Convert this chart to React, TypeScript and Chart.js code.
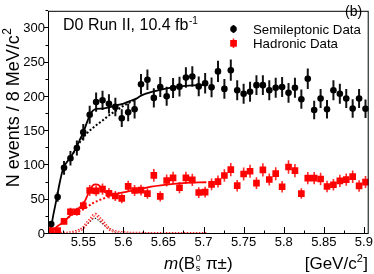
import React, { useEffect, useRef } from 'react';
import { Chart, registerables } from 'chart.js';

Chart.register(...registerables);

const FONT = "'Liberation Sans', Arial, Helvetica, sans-serif";

// ---------- axis ----------
const xMin = 5.506;
const xMax = 5.906;
const yMin = 0;
const yMax = 325.7;
const xTickValues = [5.55, 5.6, 5.65, 5.7, 5.75, 5.8, 5.85, 5.9];
const xTickLabels = ['5.55', '5.6', '5.65', '5.7', '5.75', '5.8', '5.85', '5.9'];
const xMinorTicks = [5.525, 5.575, 5.625, 5.675, 5.725, 5.775, 5.825, 5.875];
const yTickValues = [0, 50, 100, 150, 200, 250, 300];
const yTickLabels = ['0', '50', '100', '150', '200', '250', '300'];
const yMinorTicks = [25, 75, 125, 175, 225, 275, 325];

// ---------- data (bin centres, GeV/c^2) ----------
const massBins = [
  5.510, 5.518, 5.526, 5.534, 5.542, 5.550, 5.558, 5.566, 5.574, 5.582,
  5.590, 5.598, 5.606, 5.614, 5.622, 5.630, 5.638, 5.646, 5.654, 5.662,
  5.670, 5.678, 5.686, 5.694, 5.702, 5.710, 5.718, 5.726, 5.734, 5.742,
  5.750, 5.758, 5.766, 5.774, 5.782, 5.790, 5.798, 5.806, 5.814, 5.822,
  5.830, 5.838, 5.846, 5.854, 5.862, 5.870, 5.878, 5.886, 5.894, 5.902,
];

const semileptonic = [
  14.5, 54, 96.5, 110.5, 125.5, 148.5, 174, 192.5, 195, 190,
  185.5, 169, 177.6, 182, 218.6, 225, 198.6, 214.5, 201, 213,
  215, 228.4, 229.8, 215.4, 220, 214, 237.3, 211.7, 239, 209.8,
  204.7, 207.5, 217.2, 217.2, 209.8, 213.5, 214.5, 206, 213.5, 196.7,
  226.5, 181, 197.7, 182, 209.8, 204.7, 197.7, 183, 197.7, 182.7,
];
const semileptonicErr = [
  4, 7, 10, 10.5, 11, 12, 13, 14, 14, 14,
  13.5, 13, 13, 13.5, 15, 15, 14, 14.5, 14, 14.5,
  14.5, 15, 15, 14.5, 15, 14.5, 15.5, 14.5, 15.5, 14.5,
  14.5, 14.5, 14.5, 14.5, 14.5, 14.5, 14.5, 14.5, 14.5, 14,
  15, 13.5, 14, 13.5, 14.5, 14.5, 14, 13.5, 14, 13.5,
];

const hadronic = [
  5, 5, 18.5, 32.5, 32.5, 41.5, 63.5, 63, 65.5, 59.5,
  55.5, 52, 69.5, 63.5, 64, 59, 85.5, 55, 78, 82,
  67.5, 82, 79, 60.5, 61, 72.5, 76.5, 85.3, 94, 70.5,
  87.5, 91.5, 74.3, 93.5, 79.5, 88, 69, 97.7, 92.5, 59,
  81.5, 81.5, 80.3, 69.3, 71.8, 77.5, 79.3, 83.7, 70.2, 75.8,
];
const hadronicErr = [
  2.2, 2.2, 4.3, 5.7, 5.7, 6.4, 8, 7.9, 8.1, 7.7,
  7.4, 7.2, 8.3, 8, 8, 7.7, 9.2, 7.4, 8.8, 9,
  8.2, 9, 8.9, 7.8, 7.8, 8.5, 8.7, 9.2, 9.7, 8.4,
  9.4, 9.6, 8.6, 9.7, 8.9, 9.4, 8.3, 9.9, 9.6, 7.7,
  9, 9, 9, 8.3, 8.5, 8.8, 8.9, 9.1, 8.4, 8.7,
];

// ---------- fit curves ----------
const fitSemiX = [5.5070, 5.5095, 5.5130, 5.5170, 5.5210, 5.5250, 5.5290, 5.5335, 5.5375, 5.5415, 5.5455, 5.5500, 5.5540, 5.5580, 5.5620, 5.5665, 5.5745, 5.5830, 5.5915, 5.5995, 5.6080, 5.6160, 5.6220, 5.6380, 5.6540, 5.6700, 5.6860, 5.7035];
const fitSemiY = [1, 9, 30, 53, 77, 96, 104, 111, 118, 127, 137, 148, 161, 173, 180, 182.5, 183, 185, 188, 190, 194, 197.5, 202, 208, 212.5, 215.5, 217, 217.5];

const bgSemiX = [5.5375, 5.5415, 5.5455, 5.5500, 5.5580, 5.5665, 5.5745, 5.5830, 5.5915, 5.5995, 5.6080, 5.6160];
const bgSemiY = [118, 126.5, 133.5, 141, 151, 159, 166, 174, 180.5, 186.5, 192, 197];

const sigSemiX = [5.5065, 5.5200, 5.5330, 5.5400, 5.5450, 5.5490, 5.5550, 5.5600, 5.5640, 5.5690, 5.5750, 5.5800, 5.5850, 5.5900, 5.6000, 5.6200, 5.6600];
const sigSemiY = [0.5, 0.8, 1.8, 3.5, 6, 9, 14.5, 20, 23.3, 20, 14, 9.5, 6, 3.5, 1.8, 1, 0.6];

const fitHadX = [5.5065, 5.5125, 5.5185, 5.5250, 5.5310, 5.5375, 5.5435, 5.5500, 5.5540, 5.5580, 5.5620, 5.5650, 5.5680, 5.5705, 5.5765, 5.5860, 5.5950, 5.6035, 5.6200, 5.6300, 5.6540, 5.6780, 5.7035];
const fitHadY = [1, 6, 12, 17, 24, 31, 37, 44, 53, 64, 71, 72.3, 72, 70, 61.5, 57.5, 59.5, 61.5, 65.3, 68, 72, 74.5, 75.5];

const bgHadX = [5.5310, 5.5375, 5.5435, 5.5500, 5.5560, 5.5620, 5.5680, 5.5745, 5.5810, 5.5860, 5.5950];
const bgHadY = [24, 29, 32.5, 36, 40.5, 45, 48.5, 51.5, 55, 57.5, 59.5];

const sigHadX = [5.5065, 5.5200, 5.5335, 5.5400, 5.5455, 5.5500, 5.5540, 5.5600, 5.5650, 5.5705, 5.5765, 5.5800, 5.5845, 5.5900, 5.5995, 5.6200, 5.6600, 5.7035];
const sigHadY = [0.6, 0.9, 1.8, 3.5, 5.6, 9, 15, 23, 29, 23, 15, 10, 5.6, 3.5, 1.8, 1, 0.7, 0.6];

// ---------- texts ----------
const expLabel = 'D0 Run II, 10.4 fb';
const expLabelSup = '-1';
const panelLabel = '(b)';
const legendSemi = 'Semileptonic Data';
const legendHad = 'Hadronic Data';

const pts = (xs: number[], ys: number[]) => xs.map((x, i) => ({ x, y: ys[i] }));

const overlay = {
  id: 'overlay',
  beforeDatasetsDraw(chart: any) {
    const { ctx, chartArea: a } = chart;
    const xs = chart.scales.x;
    const ys = chart.scales.y;
    ctx.save();
    ctx.beginPath();
    ctx.rect(a.left, a.top, a.right - a.left, a.bottom - a.top);
    ctx.clip();
    const bars = (vals: number[], errs: number[], color: string, w: number) => {
      ctx.strokeStyle = color;
      ctx.lineWidth = w;
      ctx.beginPath();
      massBins.forEach((m, i) => {
        const px = xs.getPixelForValue(m);
        ctx.moveTo(px, ys.getPixelForValue(vals[i] - errs[i]));
        ctx.lineTo(px, ys.getPixelForValue(vals[i] + errs[i]));
      });
      ctx.stroke();
    };
    bars(hadronic, hadronicErr, '#ff2a2a', 1.6);
    bars(semileptonic, semileptonicErr, '#111', 2);
    ctx.restore();
  },
  afterDraw(chart: any) {
    const { ctx, chartArea: a } = chart;
    const xs = chart.scales.x;
    const ys = chart.scales.y;
    ctx.save();
    // frame
    ctx.strokeStyle = '#000';
    ctx.lineWidth = 1;
    ctx.strokeRect(a.left + 0.5, a.top + 0.5, a.right - a.left - 1, a.bottom - a.top - 1);
    // x ticks (inside)
    ctx.beginPath();
    xTickValues.forEach((v) => {
      const px = Math.round(xs.getPixelForValue(v)) + 0.5;
      ctx.moveTo(px, a.bottom);
      ctx.lineTo(px, a.bottom - 7);
    });
    xMinorTicks.forEach((v) => {
      const px = Math.round(xs.getPixelForValue(v)) + 0.5;
      ctx.moveTo(px, a.bottom);
      ctx.lineTo(px, a.bottom - 3.5);
    });
    // y ticks (outside)
    yTickValues.forEach((v) => {
      const py = Math.round(ys.getPixelForValue(v)) - 0.5;
      ctx.moveTo(a.left, py);
      ctx.lineTo(a.left - 4, py);
    });
    yMinorTicks.forEach((v) => {
      if (v > yMax) return;
      const py = Math.round(ys.getPixelForValue(v)) - 0.5;
      ctx.moveTo(a.left, py);
      ctx.lineTo(a.left - 2.5, py);
    });
    ctx.stroke();

    ctx.fillStyle = '#000';
    ctx.textBaseline = 'alphabetic';
    ctx.textAlign = 'left';
    const f = (size: number, style = '') => `${style} ${size}px ${FONT}`;

    // experiment label
    ctx.font = f(16);
    ctx.fillText(expLabel, 63, 30);
    const wExp = ctx.measureText(expLabel).width;
    ctx.font = f(10);
    ctx.fillText(expLabelSup, 63 + wExp + 0.5, 24);

    // panel label
    ctx.font = f(14);
    ctx.fillText(panelLabel, 345, 15.5);

    // legend
    ctx.strokeStyle = '#111';
    ctx.lineWidth = 2;
    ctx.beginPath();
    ctx.moveTo(233.5, 25);
    ctx.lineTo(233.5, 33);
    ctx.stroke();
    ctx.beginPath();
    ctx.arc(233.5, 29, 3.3, 0, Math.PI * 2);
    ctx.fill();
    ctx.strokeStyle = '#ff2a2a';
    ctx.lineWidth = 1.6;
    ctx.beginPath();
    ctx.moveTo(233.5, 38.5);
    ctx.lineTo(233.5, 48);
    ctx.stroke();
    ctx.fillStyle = '#ff0000';
    ctx.fillRect(230.2, 40, 6.7, 6.7);
    ctx.fillStyle = '#000';
    ctx.font = f(13.3);
    ctx.fillText(legendSemi, 253, 33.5);
    ctx.fillText(legendHad, 253, 47.5);

    // x title
    const by = 269;
    let cx = 164;
    ctx.font = f(17, 'italic');
    ctx.fillText('m', cx, by);
    cx += ctx.measureText('m').width;
    ctx.font = f(17);
    ctx.fillText('(B', cx, by);
    cx += ctx.measureText('(B').width;
    ctx.font = f(9);
    ctx.fillText('0', cx + 0.5, by - 8);
    ctx.fillText('s', cx + 0.5, by + 2);
    cx += Math.max(ctx.measureText('0').width, ctx.measureText('s').width) + 1;
    ctx.font = f(17);
    ctx.fillText(' \u03c0\u00b1)', cx, by);

    ctx.font = f(17);
    const u1 = '[GeV/c';
    const w1 = ctx.measureText(u1).width;
    const w3 = ctx.measureText(']').width;
    ctx.font = f(11);
    const w2 = ctx.measureText('2').width;
    let ux = 368 - (w1 + w2 + w3 + 0.5);
    ctx.font = f(17);
    ctx.fillText(u1, ux, by);
    ux += w1;
    ctx.font = f(11);
    ctx.fillText('2', ux, by - 7);
    ux += w2 + 0.5;
    ctx.font = f(17);
    ctx.fillText(']', ux, by);

    // y title (rotated)
    ctx.save();
    ctx.translate(18.5, 0);
    ctx.rotate(-Math.PI / 2);
    const yt = 'N events / 8 MeV/c';
    ctx.font = f(18);
    const wy = ctx.measureText(yt).width;
    ctx.font = f(12);
    const wy2 = ctx.measureText('2').width;
    const start = -28 - (wy + wy2 + 0.5);
    ctx.font = f(18);
    ctx.fillText(yt, start, 0);
    ctx.font = f(12);
    ctx.fillText('2', start + wy + 0.5, -7.5);
    ctx.restore();

    ctx.restore();
  },
};

export default function App() {
  const ref = useRef<HTMLCanvasElement>(null);
  useEffect(() => {
    document.body.style.margin = '0';
    const canvas = ref.current;
    if (!canvas) return;
    const line = (xs: number[], ys: number[], color: string, width: number, dash: number[] = []) => ({
      data: pts(xs, ys),
      showLine: true,
      borderColor: color,
      borderWidth: width,
      borderDash: dash,
      borderCapStyle: 'butt',
      pointRadius: 0,
      pointHoverRadius: 0,
      fill: false,
      cubicInterpolationMode: 'monotone',
    });
    const chart = new Chart(canvas, {
      type: 'scatter',
      data: {
        datasets: [
          {
            data: pts(massBins, semileptonic),
            pointStyle: 'circle',
            pointRadius: 3.3,
            pointBorderWidth: 0,
            pointBackgroundColor: '#000',
            showLine: false,
          } as any,
          {
            data: pts(massBins, hadronic),
            pointStyle: 'rect',
            pointRadius: 4.7,
            pointBorderWidth: 0,
            pointBackgroundColor: '#ff0000',
            showLine: false,
          } as any,
          line(fitSemiX, fitSemiY, '#000', 1.8),
          line(bgSemiX, bgSemiY, '#000', 2, [2, 2]),
          line(fitHadX, fitHadY, '#ff0000', 1.8),
          line(bgHadX, bgHadY, '#ff0000', 2, [2, 2]),
          line(sigHadX, sigHadY, '#ffffff', 0.8, [1.5, 1.5]),
          line(sigHadX, sigHadY, '#ff2020', 3, [1.5, 1.5]),
          line(sigSemiX, sigSemiY, '#222', 1.2, [1.5, 1.5]),
        ] as any,
      },
      options: {
        responsive: false,
        animation: false,
        devicePixelRatio: 1,
        events: [],
        layout: { padding: { left: 0, right: 4, top: 1, bottom: 0 } },
        plugins: { legend: { display: false }, tooltip: { enabled: false } },
        scales: {
          x: {
            type: 'linear',
            min: xMin,
            max: xMax,
            grid: { display: false, drawTicks: false },
            border: { display: false },
            afterBuildTicks: (s: any) => {
              s.ticks = xTickValues.map((v) => ({ value: v }));
            },
            afterFit: (s: any) => {
              s.height = 40;
            },
            ticks: {
              padding: 1,
              autoSkip: false,
              maxRotation: 0,
              color: '#000',
              font: { family: FONT, size: 13 },
              callback: (_v: any, i: number) => xTickLabels[i],
            },
          },
          y: {
            type: 'linear',
            min: yMin,
            max: yMax,
            grid: { display: false, drawTicks: false },
            border: { display: false },
            afterBuildTicks: (s: any) => {
              s.ticks = yTickValues.map((v) => ({ value: v }));
            },
            afterFit: (s: any) => {
              s.width = 48;
            },
            ticks: {
              padding: 3,
              autoSkip: false,
              color: '#000',
              font: { family: FONT, size: 13 },
              callback: (_v: any, i: number) => yTickLabels[i],
            },
          },
        },
      } as any,
      plugins: [overlay],
    });
    return () => chart.destroy();
  }, []);
  return (
    <div style={{ width: 374, height: 274 }}>
      <canvas ref={ref} width={374} height={274} style={{ display: 'block', width: 374, height: 274 }} />
    </div>
  );
}
